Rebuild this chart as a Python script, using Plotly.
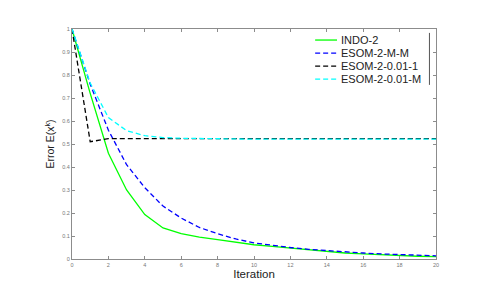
import plotly.graph_objects as go

iterations = list(range(0, 21))
indo2 = [1.0, 0.72, 0.46, 0.30, 0.193, 0.135, 0.11, 0.095, 0.084, 0.072, 0.062,
         0.055, 0.048, 0.038, 0.031, 0.026, 0.022, 0.018, 0.015, 0.012, 0.010]
esom_m_m = [1.0, 0.76, 0.56, 0.41, 0.31, 0.23, 0.178, 0.137, 0.11, 0.087, 0.07,
            0.059, 0.05, 0.042, 0.036, 0.031, 0.026, 0.022, 0.019, 0.016, 0.014]
esom_001_1 = [1.0, 0.51] + [0.523] * 19
esom_001_m = [1.0, 0.765, 0.615, 0.558, 0.536, 0.528, 0.525, 0.523, 0.522, 0.522,
              0.521, 0.521, 0.521, 0.521, 0.521, 0.521, 0.521, 0.521, 0.521, 0.521, 0.521]

series_names = ["INDO-2", "ESOM-2-M-M", "ESOM-2-0.01-1", "ESOM-2-0.01-M"]
series_values = [indo2, esom_m_m, esom_001_1, esom_001_m]
series_colors = ["#00ff00", "#0000ff", "#000000", "#00ffff"]
series_dashes = ["solid", "5px,3px", "5px,3px", "5px,3px"]

x_ticks = list(range(0, 21, 2))
y_ticks = [round(i * 0.1, 1) for i in range(11)]
y_labels = ["0"] + [f"{v:g}" for v in y_ticks[1:]]

fig = go.Figure()
for name, vals, color, dash in zip(series_names, series_values, series_colors, series_dashes):
    fig.add_trace(go.Scatter(x=iterations, y=vals, mode="lines", name=name, showlegend=False,
                             line=dict(color=color, width=1.3, dash=dash)))

axis_common = dict(showgrid=False, zeroline=False, showline=True, linecolor="#8c8c8c",
                   linewidth=1, mirror="ticks", ticks="inside", ticklen=3,
                   tickcolor="#8c8c8c", tickfont=dict(size=5.5, color="#777777"))

fig.update_xaxes(range=[0, 20], tickvals=x_ticks, **axis_common,
                 title=dict(text="Iteration", font=dict(size=11.5, color="#222222"), standoff=2))
fig.update_yaxes(range=[0, 1], tickvals=y_ticks, ticktext=y_labels, **axis_common,
                 title=dict(text="Error E(x<sup>k</sup>)", font=dict(size=10.5, color="#222222"), standoff=5))

# legend drawn inside the axes (MATLAB style)
leg_top = 0.952
leg_step = 0.0565
for i, (name, color, dash) in enumerate(zip(series_names, series_colors, series_dashes)):
    yy = leg_top - i * leg_step
    fig.add_shape(type="line", xref="paper", yref="paper", x0=0.668, x1=0.728, y0=yy, y1=yy,
                  line=dict(color=color, width=1.3, dash=dash))
    fig.add_annotation(xref="paper", yref="paper", x=0.733, y=yy, xanchor="left", yanchor="middle",
                       text=name, showarrow=False, font=dict(size=11, color="#222222"))
fig.add_shape(type="line", xref="paper", yref="paper", x0=0.982, x1=0.982, y0=0.757, y1=0.983,
              line=dict(color="#555555", width=1))

fig.update_layout(
    width=483, height=292,
    margin=dict(l=64, r=55, t=21, b=41),
    paper_bgcolor="white", plot_bgcolor="white",
    font=dict(family="Liberation Sans, Arial, sans-serif"),
    showlegend=False,
)

fig.write_html("out.html")
